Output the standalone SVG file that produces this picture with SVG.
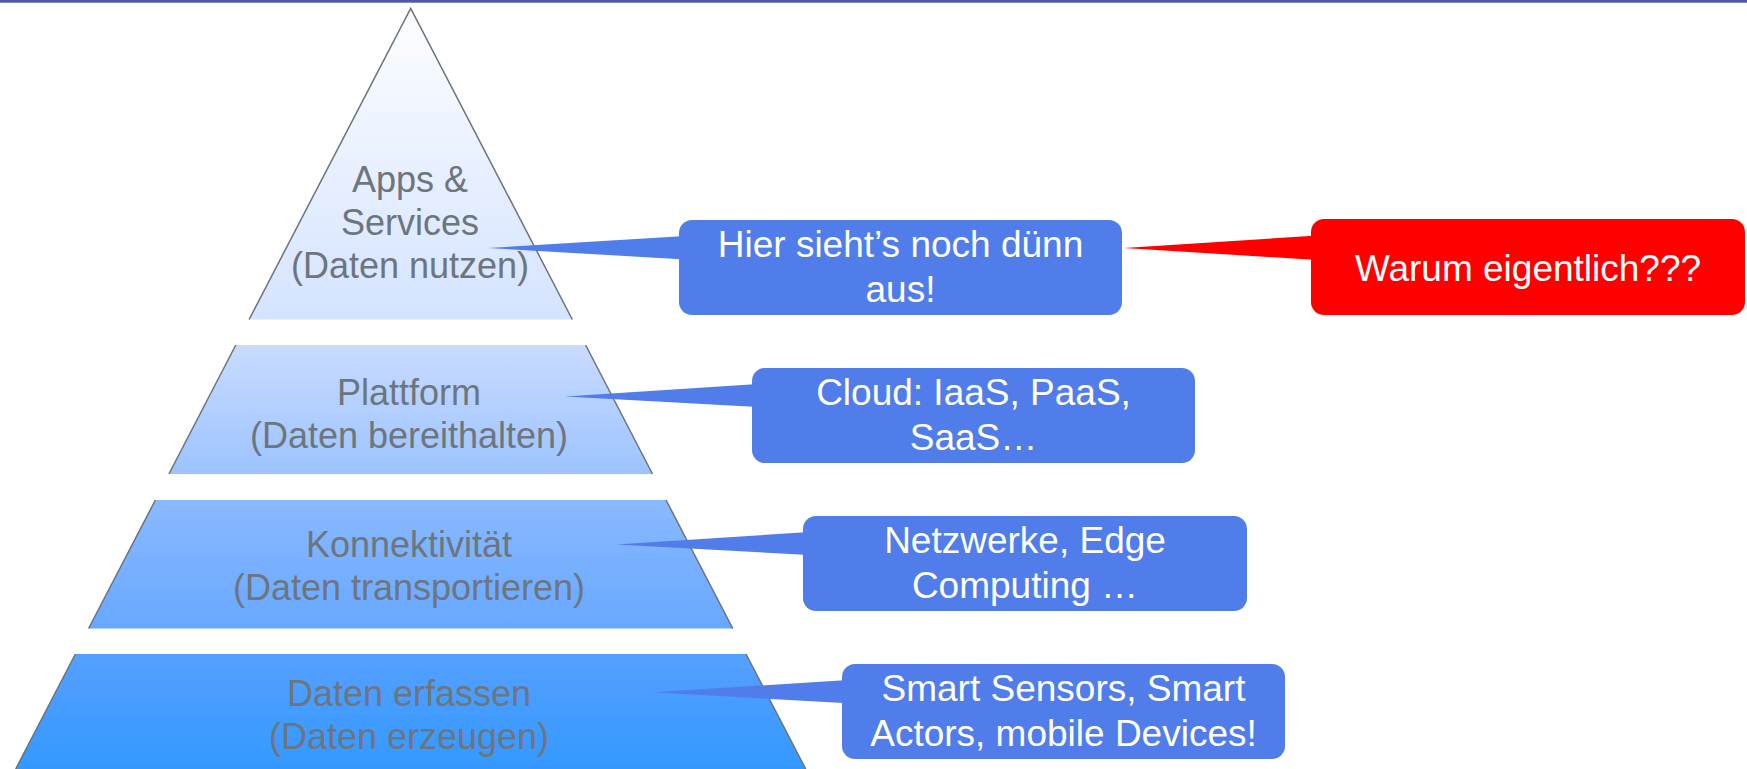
<svg xmlns="http://www.w3.org/2000/svg" width="1747" height="769" viewBox="0 0 1747 769">
<defs>
<linearGradient id="pyr" gradientUnits="userSpaceOnUse" x1="0" y1="8" x2="0" y2="769">
<stop offset="0" stop-color="#fdfeff"/>
<stop offset="0.41" stop-color="#d4e3ff"/>
<stop offset="0.443" stop-color="#c9dbff"/>
<stop offset="0.612" stop-color="#9cc3ff"/>
<stop offset="0.646" stop-color="#8ab9ff"/>
<stop offset="0.815" stop-color="#67a8ff"/>
<stop offset="0.849" stop-color="#55a0ff"/>
<stop offset="1" stop-color="#3399ff"/>
</linearGradient>
</defs>
<style>
.layer{fill:url(#pyr);stroke:none}
.edge{stroke:#6b737b;stroke-width:1.5;fill:none}
.lt{font-family:"Liberation Sans",Arial,sans-serif;font-size:36px;fill:#6d757d;text-anchor:middle}
.box{fill:#507de9}
.red{fill:#ff0000}
.bt{font-family:"Liberation Sans",Arial,sans-serif;font-size:37px;fill:#ffffff;text-anchor:middle}
</style>
<rect x="0" y="0" width="1747" height="769" fill="#ffffff"/>
<rect x="0" y="0" width="1747" height="2.7" fill="#4f58a6"/>

<g id="layer-apps">
<polygon class="layer" points="410.7,8.3 572.3,319.5 249.1,319.5"/>
<polyline class="edge" points="249.1,319.5 410.7,8.3 572.3,319.5"/>
<text class="lt" x="410" y="192">Apps &amp;</text>
<text class="lt" x="410" y="235">Services</text>
<text class="lt" x="410" y="278">(Daten nutzen)</text>
</g>
<g id="layer-plattform">
<polygon class="layer" points="235.8,345 585.6,345 652.5,474 168.9,474"/>
<line class="edge" x1="235.8" y1="345" x2="168.9" y2="474"/>
<line class="edge" x1="585.6" y1="345" x2="652.5" y2="474"/>
<text class="lt" x="409" y="405">Plattform</text>
<text class="lt" x="409" y="448">(Daten bereithalten)</text>
</g>
<g id="layer-konnektivitaet">
<polygon class="layer" points="155.4,500 666,500 732.8,628.5 88.6,628.5"/>
<line class="edge" x1="155.4" y1="500" x2="88.6" y2="628.5"/>
<line class="edge" x1="666" y1="500" x2="732.8" y2="628.5"/>
<text class="lt" x="409" y="557">Konnektivität</text>
<text class="lt" x="409" y="600">(Daten transportieren)</text>
</g>
<g id="layer-daten">
<polygon class="layer" points="75.4,654 746,654 805.7,769 15.7,769"/>
<line class="edge" x1="75.4" y1="654" x2="15.7" y2="769"/>
<line class="edge" x1="746" y1="654" x2="805.7" y2="769"/>
<text class="lt" x="409" y="706">Daten erfassen</text>
<text class="lt" x="409" y="749">(Daten erzeugen)</text>
</g>

<g id="connectors">
<polygon class="box" points="488,248 685,236 685,259.5"/>
<polygon class="red" points="1124,248 1317,235.5 1317,260"/>
<polygon class="box" points="565,396.5 758,384 758,407"/>
<polygon class="box" points="616,544.5 809,532 809,555"/>
<polygon class="box" points="653,692.3 848,680 848,703.3"/>
</g>

<g id="callout-duenn">
<rect class="box" x="679" y="220" width="443" height="95" rx="13"/>
<text class="bt" x="900.5" y="257">Hier sieht’s noch dünn</text>
<text class="bt" x="900.5" y="302">aus!</text>
</g>
<g id="callout-warum">
<rect class="red" x="1311" y="219" width="434" height="96" rx="13"/>
<text class="bt" x="1528" y="281">Warum eigentlich???</text>
</g>
<g id="callout-cloud">
<rect class="box" x="752" y="368" width="443" height="95" rx="13"/>
<text class="bt" x="973.5" y="405">Cloud: IaaS, PaaS,</text>
<text class="bt" x="973.5" y="450">SaaS…</text>
</g>
<g id="callout-netz">
<rect class="box" x="803" y="516" width="444" height="95" rx="13"/>
<text class="bt" x="1025" y="553">Netzwerke, Edge</text>
<text class="bt" x="1025" y="598">Computing …</text>
</g>
<g id="callout-smart">
<rect class="box" x="842" y="664" width="443" height="95" rx="13"/>
<text class="bt" x="1063.5" y="701">Smart Sensors, Smart</text>
<text class="bt" x="1063.5" y="746">Actors, mobile Devices!</text>
</g>
</svg>
